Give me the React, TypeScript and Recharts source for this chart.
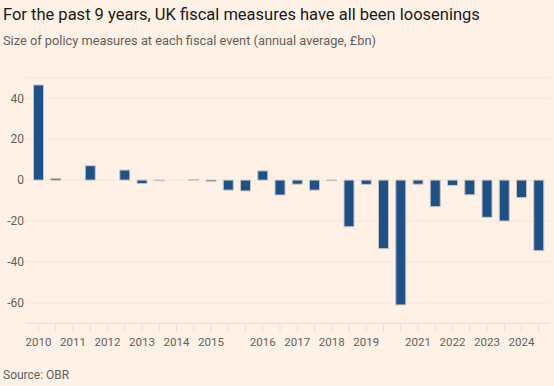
import { BarChart, Bar, XAxis, YAxis, CartesianGrid } from 'recharts';

// one entry per fiscal event, oldest first
const events = [
    'e01', 'e02', 'e03', 'e04', 'e05', 'e06', 'e07', 'e08', 'e09', 'e10',
    'e11', 'e12', 'e13', 'e14', 'e15', 'e16', 'e17', 'e18', 'e19', 'e20',
    'e21', 'e22', 'e23', 'e24', 'e25', 'e26', 'e27', 'e28', 'e29', 'e30',
];

// £bn, annual average size of measures
const measures = [
    46.5, 0.8, 0, 7.0, 0, 4.9, -1.7, -0.3, 0, 0.3,
    -0.7, -4.9, -5.3, 4.5, -7.3, -2.0, -4.9, -0.3, -22.8, -2.1,
    -33.5, -61, -2.0, -13.0, -2.6, -7.2, -18.2, -20, -8.5, -34.5,
];

const yearLabels = [
    '2010', '', '2011', '', '2012', '', '2013', '', '2014', '',
    '2015', '', '', '2016', '', '2017', '', '2018', '', '2019',
    '', '', '2021', '', '2022', '', '2023', '', '2024', '',
];

const yTicks = [-60, -40, -20, 0, 20, 40];

const data = events.map((id, i) => ({ id, value: measures[i] }));

const FONT = 'Roboto, sans-serif';
const GREY = '#66605c';

export default function App() {
    return (
        <div style={{ position: 'absolute', left: 0, top: 0, width: 554, height: 386, background: '#fff1e5', fontFamily: FONT, overflow: 'hidden' }}>
            <div style={{ position: 'absolute', left: 3, top: 7, fontSize: 16.5, lineHeight: 1, color: '#1a1817', whiteSpace: 'nowrap' }}>
                For the past 9 years, UK fiscal measures have all been loosenings
            </div>
            <div style={{ position: 'absolute', left: 3, top: 34.5, fontSize: 12.8, lineHeight: 1, color: GREY, whiteSpace: 'nowrap' }}>
                Size of policy measures at each fiscal event (annual average, £bn)
            </div>

            <div style={{ position: 'absolute', left: 0, top: 0 }}>
                <BarChart width={554} height={386} data={data} margin={{ top: 77.8, right: 4, bottom: 32.7, left: 0 }} barCategoryGap="21%">
                    <CartesianGrid vertical={false} stroke="#f6e7db" />
                    <XAxis
                        dataKey="id"
                        height={30}
                        interval={0}
                        padding={{ left: 3.4, right: 2.6 }}
                        tickFormatter={(_v: string, i: number) => yearLabels[i]}
                        tick={{ fill: GREY, fontSize: 11.5, fontFamily: FONT }}
                        tickSize={9}
                        tickMargin={6}
                        stroke="#ebdfd4"
                    />
                    <YAxis
                        domain={[-70, 50]}
                        ticks={yTicks}
                        width={26.5}
                        axisLine={false}
                        tickLine={false}
                        tickSize={0}
                        tickMargin={2.5}
                        tick={{ fill: GREY, fontSize: 12, fontFamily: FONT }}
                    />
                    <Bar dataKey="value" fill="#1f5189" stroke="#c9c4c1" strokeWidth={1} isAnimationActive={false} />
                </BarChart>
            </div>

            <div style={{ position: 'absolute', left: 3, top: 368.5, fontSize: 12, lineHeight: 1, color: GREY, whiteSpace: 'nowrap' }}>
                Source: OBR
            </div>
        </div>
    );
}
